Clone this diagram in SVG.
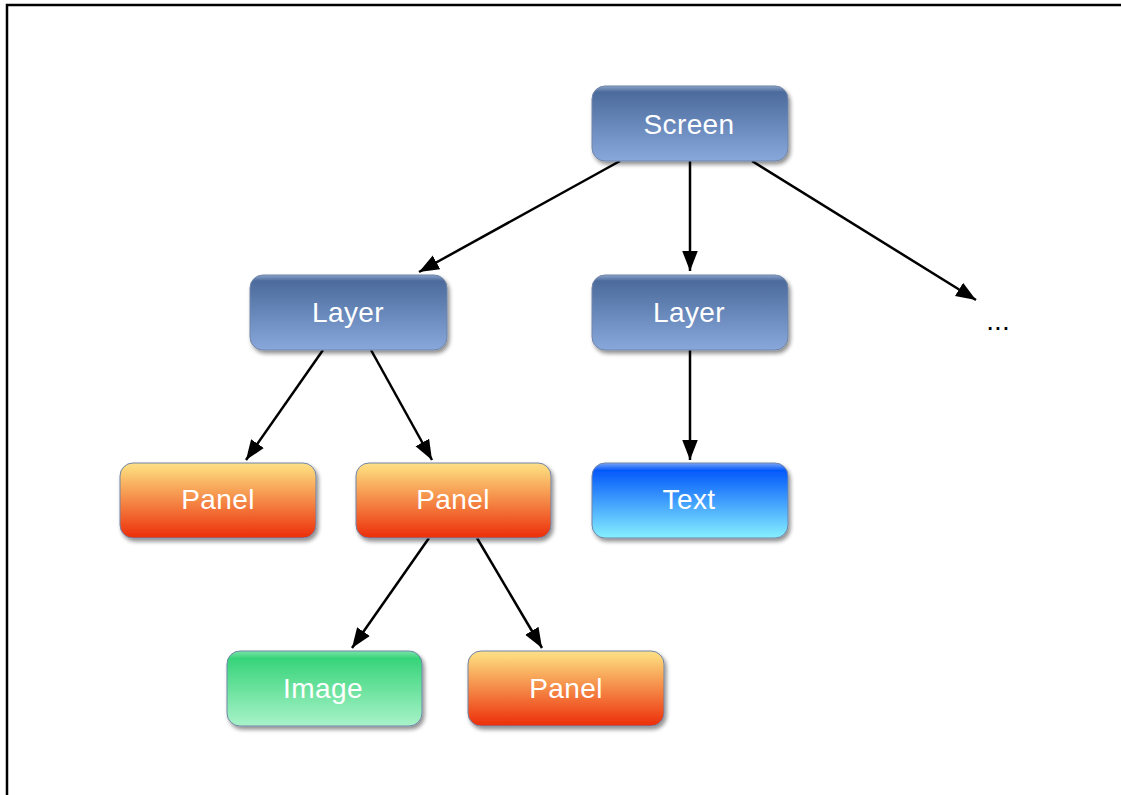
<svg xmlns="http://www.w3.org/2000/svg" width="1121" height="795" viewBox="0 0 1121 795">
  <defs>
    <linearGradient id="gBlue" x1="0" y1="0" x2="0" y2="1">
      <stop offset="0" stop-color="#8aa3c8"/>
      <stop offset="0.08" stop-color="#4c6b9c"/>
      <stop offset="1" stop-color="#88a8dc"/>
    </linearGradient>
    <linearGradient id="gOrange" x1="0" y1="0" x2="0" y2="1">
      <stop offset="0" stop-color="#fde08a"/>
      <stop offset="0.1" stop-color="#fcd277"/>
      <stop offset="1" stop-color="#ec2e0a"/>
    </linearGradient>
    <linearGradient id="gCyan" x1="0" y1="0" x2="0" y2="1">
      <stop offset="0" stop-color="#7aa4f5"/>
      <stop offset="0.1" stop-color="#0459fb"/>
      <stop offset="1" stop-color="#86f0ff"/>
    </linearGradient>
    <linearGradient id="gGreen" x1="0" y1="0" x2="0" y2="1">
      <stop offset="0" stop-color="#7ce3a8"/>
      <stop offset="0.1" stop-color="#37d47a"/>
      <stop offset="1" stop-color="#a9f3c9"/>
    </linearGradient>
    <filter id="shadow" x="-10%" y="-10%" width="125%" height="135%">
      <feGaussianBlur in="SourceAlpha" stdDeviation="2"/>
      <feOffset dx="2" dy="3" result="b"/>
      <feComponentTransfer><feFuncA type="linear" slope="0.45"/></feComponentTransfer>
      <feMerge><feMergeNode/><feMergeNode in="SourceGraphic"/></feMerge>
    </filter>
    <marker id="arrow" markerWidth="20" markerHeight="16" viewBox="0 0 18 14" refX="18" refY="7" orient="auto" markerUnits="userSpaceOnUse">
      <path d="M0,0 L18,7 L0,14 Z" fill="#000"/>
    </marker>
  </defs>
  <style>
    .box { stroke: #7185a8; stroke-width: 1; filter: url(#shadow); }
    .lbl { font-family: "Liberation Sans", Arial, sans-serif; font-size: 28px; letter-spacing: 0.4px; fill: #ffffff; text-anchor: middle; dominant-baseline: central; }
    .edge { stroke: #000; stroke-width: 2.5; fill: none; marker-end: url(#arrow); }
  </style>
  <rect width="1121" height="795" fill="#ffffff"/>
  <!-- frame -->
  <path d="M7,795 V5 H1121" fill="none" stroke="#000" stroke-width="2.5"/>

  <g id="connectors">
    <line class="edge" x1="620" y1="161" x2="419" y2="272"/>
    <line class="edge" x1="690" y1="161" x2="690" y2="271"/>
    <line class="edge" x1="752" y1="161" x2="976" y2="300"/>
    <line class="edge" x1="323" y1="350" x2="246" y2="460"/>
    <line class="edge" x1="371" y1="350" x2="432" y2="460"/>
    <line class="edge" x1="690" y1="350" x2="690" y2="460"/>
    <line class="edge" x1="429" y1="538" x2="352" y2="648"/>
    <line class="edge" x1="477" y1="538" x2="542" y2="648"/>
  </g>

  <g id="screen">
    <rect class="box" x="592" y="86" width="196" height="75" rx="13" fill="url(#gBlue)"/>
    <text class="lbl" x="689" y="124">Screen</text>
  </g>
  <g id="layer1">
    <rect class="box" x="250" y="275" width="197" height="75" rx="13" fill="url(#gBlue)"/>
    <text class="lbl" x="348" y="312">Layer</text>
  </g>
  <g id="layer2">
    <rect class="box" x="592" y="275" width="196" height="75" rx="13" fill="url(#gBlue)"/>
    <text class="lbl" x="689" y="312">Layer</text>
  </g>
  <g id="more">
    <text x="998" y="320" font-family="Liberation Sans, Arial, sans-serif" font-size="28" fill="#000" text-anchor="middle" dominant-baseline="central">...</text>
  </g>
  <g id="panel1">
    <rect class="box" x="120" y="463" width="196" height="75" rx="13" fill="url(#gOrange)"/>
    <text class="lbl" x="218" y="499">Panel</text>
  </g>
  <g id="panel2">
    <rect class="box" x="356" y="463" width="195" height="75" rx="13" fill="url(#gOrange)"/>
    <text class="lbl" x="453" y="499">Panel</text>
  </g>
  <g id="text">
    <rect class="box" x="592" y="463" width="196" height="75" rx="13" fill="url(#gCyan)"/>
    <text class="lbl" x="689" y="499">Text</text>
  </g>
  <g id="image">
    <rect class="box" x="227" y="651" width="195" height="75" rx="13" fill="url(#gGreen)"/>
    <text class="lbl" x="323" y="688">Image</text>
  </g>
  <g id="panel3">
    <rect class="box" x="468" y="651" width="196" height="75" rx="13" fill="url(#gOrange)"/>
    <text class="lbl" x="566" y="688">Panel</text>
  </g>
</svg>
